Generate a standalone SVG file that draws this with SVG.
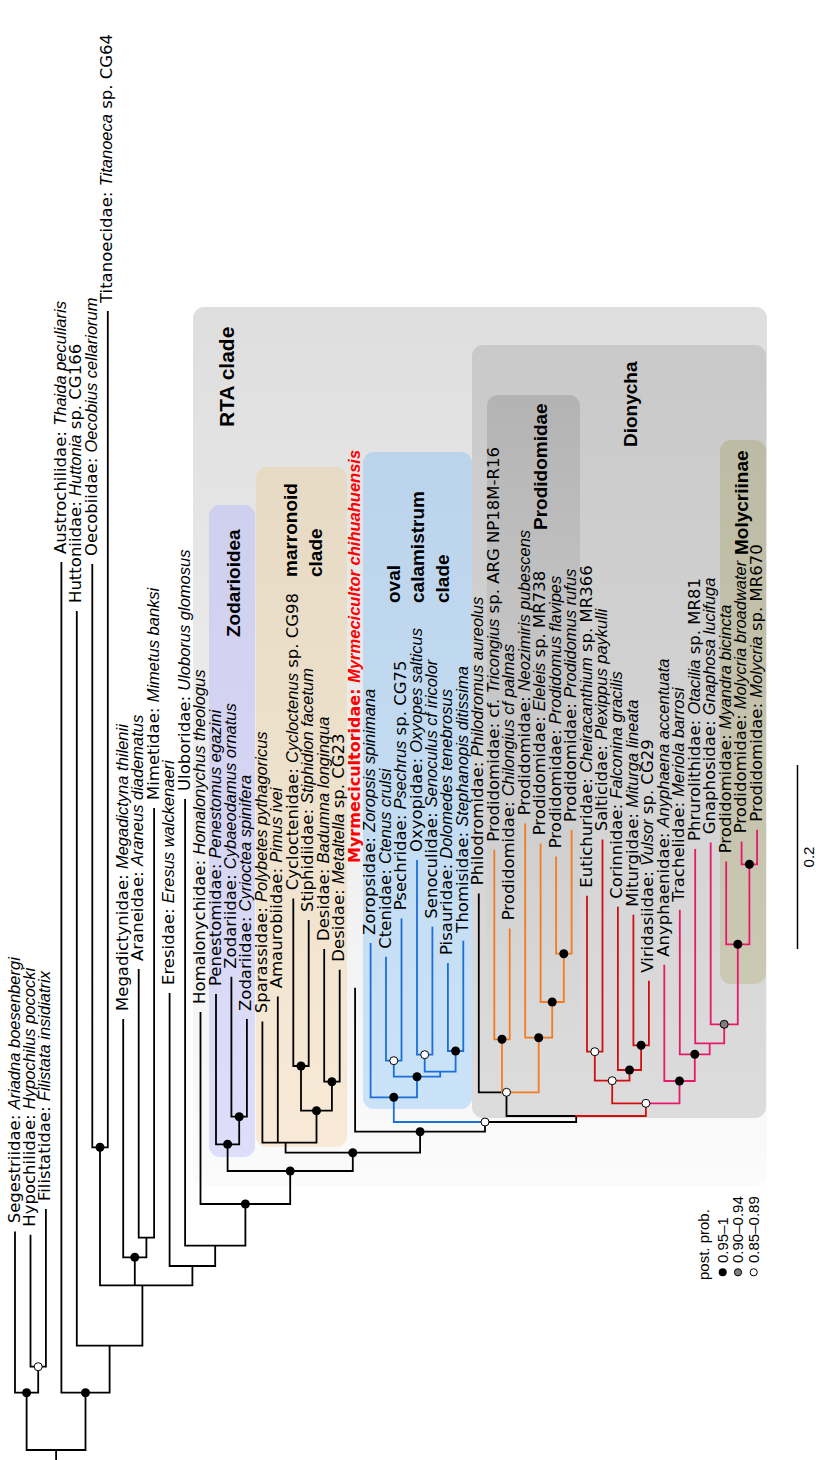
<svg xmlns="http://www.w3.org/2000/svg" width="816" height="1460" viewBox="0 0 816 1460">
<defs>
<style>
.lb{font-family:"DejaVu Sans","Liberation Sans",Arial,sans-serif;font-size:16.5px;fill:#000}
.i{font-family:"Liberation Sans Narrow","Arial Narrow","Liberation Sans",sans-serif;font-style:italic}
.my{font-family:"DejaVu Sans","Liberation Sans",Arial,sans-serif;font-size:16px;font-weight:bold;fill:#ff0000}
.my .i{font-size:16.5px}
.sm{font-family:"Liberation Sans",Arial,sans-serif;font-size:15px;fill:#000}
.cl{font-family:"Liberation Sans",Arial,sans-serif;font-size:19px;font-weight:bold;fill:#000}
.k{fill:none;stroke:#000;stroke-width:1.8;stroke-linecap:square}
.bl{fill:none;stroke:#1b6fd6;stroke-width:1.8;stroke-linecap:square}
.or{fill:none;stroke:#f47b20;stroke-width:1.8;stroke-linecap:square}
.rd{fill:none;stroke:#d10f12;stroke-width:1.8;stroke-linecap:square}
.pk{fill:none;stroke:#e9186a;stroke-width:1.8;stroke-linecap:square}
.d{fill:#000}
.w{fill:#fff;stroke:#000;stroke-width:1}
.g{fill:#7f7f7f;stroke:#000;stroke-width:1}
</style>
<linearGradient id="gRTA" x1="0" y1="0" x2="0" y2="1"><stop offset="0" stop-color="#dedede"/><stop offset="1" stop-color="#fbfbfb"/></linearGradient>
<linearGradient id="gZod" x1="0" y1="0" x2="0" y2="1"><stop offset="0" stop-color="#cfcfee"/><stop offset="1" stop-color="#dedefa"/></linearGradient>
<linearGradient id="gMar" x1="0" y1="0" x2="0" y2="1"><stop offset="0" stop-color="#e6dac4"/><stop offset="1" stop-color="#f8ead6"/></linearGradient>
<linearGradient id="gOval" x1="0" y1="0" x2="0" y2="1"><stop offset="0" stop-color="#bbd4eb"/><stop offset="1" stop-color="#cbe3f8"/></linearGradient>
<linearGradient id="gDio" x1="0" y1="0" x2="0" y2="1"><stop offset="0" stop-color="#c9c9c9"/><stop offset="1" stop-color="#dcdcdc"/></linearGradient>
<linearGradient id="gPro" x1="0" y1="0" x2="0" y2="1"><stop offset="0" stop-color="#b3b3b3" stop-opacity="1"/><stop offset="1" stop-color="#cccccc" stop-opacity="0"/></linearGradient>
<linearGradient id="gMol" x1="0" y1="0" x2="0" y2="1"><stop offset="0" stop-color="#bdbba4"/><stop offset="1" stop-color="#cbc9b3"/></linearGradient>
</defs>
<rect width="816" height="1460" fill="#fff"/>
<g id="boxes">
<rect id="box-rta" x="193" y="307" width="574" height="880" rx="11" fill="url(#gRTA)"/>
<rect id="box-zod" x="209" y="505" width="46" height="652" rx="11" fill="url(#gZod)"/>
<rect id="box-mar" x="256" y="467" width="91" height="680" rx="11" fill="url(#gMar)"/>
<rect id="box-oval" x="363" y="452" width="109" height="657" rx="11" fill="url(#gOval)"/>
<rect id="box-dio" x="472" y="345" width="294" height="773" rx="11" fill="url(#gDio)"/>
<rect id="box-pro" x="487" y="395" width="93" height="660" rx="11" fill="url(#gPro)"/>
<rect id="box-mol" x="720" y="440" width="46" height="544" rx="11" fill="url(#gMol)"/>
</g>
<g id="clade-labels">
<text class="cl" style="font-size:21px" transform="translate(233.5 427) rotate(-90)">RTA clade</text>
<text class="cl" transform="translate(240 637) rotate(-90)">Zodarioidea</text>
<text class="cl" transform="translate(297 577) rotate(-90)">marronoid</text>
<text class="cl" transform="translate(322 577) rotate(-90)">clade</text>
<text class="cl" transform="translate(400 603) rotate(-90)">oval</text>
<text class="cl" transform="translate(424 603) rotate(-90)">calamistrum</text>
<text class="cl" transform="translate(449 603) rotate(-90)">clade</text>
<text class="cl" transform="translate(637 447) rotate(-90)">Dionycha</text>
<text class="cl" transform="translate(547 530) rotate(-90)">Prodidomidae</text>
<text class="cl" transform="translate(748 555) rotate(-90)">Molycriinae</text>
</g>
<g id="connectors">
<path class="k" d="M56.1 1460V1450M26.6 1450H85.5M26.6 1450V1392.7M85.5 1450V1392.7M15 1392.7H38.2M15 1392.7V1232.3M38.2 1392.7V1366.7M30.5 1366.7H45.9M30.5 1366.7V1235.7M45.9 1366.7V1210M61.4 1392.7H109.6M61.4 1392.7V563M109.6 1392.7V1345.7M76.8 1345.7H142.4M76.8 1345.7V612M142.4 1345.7V1285.3M100 1285.3H192.4M100 1285.3V1147.3M92.3 1147.3H107.8M92.3 1147.3V565M107.8 1147.3V312M134.8 1285.3V1257.3M123.2 1257.3H146.4M123.2 1257.3V1020M146.4 1257.3V1237.7M138.7 1237.7H154.1M138.7 1237.7V970M154.1 1237.7V809M192.4 1285.3V1266M169.6 1266H215.2M169.6 1266V994M215.2 1266V1245.7M185.1 1245.7H245.4M185.1 1245.7V800M245.4 1245.7V1204M200.5 1204H290.2M200.5 1204V1013M290.2 1204V1171M227.6 1171H352.8M227.6 1171V1144.3M216 1144.3H239.2M216 1144.3V995M239.2 1144.3V1116.7M231.4 1116.7H246.9M231.4 1116.7V977.7M246.9 1116.7V1020M352.8 1171V1152.7M285.6 1152.7H420.1M285.6 1152.7V1142.7M262.4 1142.7H316.5M262.4 1142.7V1022.3M277.8 1142.7V997.3M316.5 1142.7V1110.7M301 1110.7H331.9M301 1110.7V1066M293.3 1066H308.7M293.3 1066V899.3M308.7 1066V921M331.9 1110.7V1081.7M324.2 1081.7H339.7M324.2 1081.7V950M339.7 1081.7V970.7M420.1 1152.7V1131.7M355.1 1131.7H485M355.1 1131.7V988.7M485 1131.7V1122M485 1122H576.2M576.2 1122V1116M506.5 1116H576.2M506.5 1116V1092.3M478.8 1092.3H502M478.8 1092.3V894.3"/>
<path class="bl" d="M393.8 1122H485M393.8 1122V1097.3M370.6 1097.3H417M370.6 1097.3V944M417 1097.3V1076.7M393.8 1076.7H440.2M393.8 1076.7V1060.7M386 1060.7H401.5M386 1060.7V957.7M401.5 1060.7V919.3M440.2 1076.7V1071.7M424.7 1071.7H455.6M424.7 1071.7V1054.7M417 1054.7H432.4M417 1054.7V861M432.4 1054.7V927.7M455.6 1071.7V1051M447.9 1051H463.3M447.9 1051V964M463.3 1051V941.7"/>
<path class="or" d="M502 1092.3H538.7M502 1092.3V1039.3M494.3 1039.3H509.7M494.3 1039.3V850.7M509.7 1039.3V929.3M538.7 1092.3V1037.7M525.2 1037.7H552.2M525.2 1037.7V824.3M552.2 1037.7V1002M540.6 1002H563.8M540.6 1002V844.3M563.8 1002V953.7M556.1 953.7H571.6M556.1 953.7V857.3M571.6 953.7V831"/>
<path class="rd" d="M576.2 1116H645.9M645.9 1116V1103.3M612.2 1103.3H645.9M612.2 1103.3V1080.7M594.8 1080.7H629.5M594.8 1080.7V1051.7M587 1051.7H602.5M587 1051.7V896.7M602.5 1051.7V840.3M629.5 1080.7V1070M617.9 1070H641.1M617.9 1070V907.7M641.1 1070V1045.3M633.4 1045.3H648.9M633.4 1045.3V915.7M648.9 1045.3V981.7"/>
<path class="pk" d="M645.9 1103.3H679.5M679.5 1103.3V1081M664.3 1081H694.8M664.3 1081V965.7M694.8 1081V1054.3M679.8 1054.3H709.7M679.8 1054.3V910.7M709.7 1054.3V1043.3M695.2 1043.3H724.2M695.2 1043.3V850M724.2 1043.3V1024.3M710.7 1024.3H737.8M710.7 1024.3V843.3M737.8 1024.3V944.3M726.2 944.3H749.4M726.2 944.3V862.3M749.4 944.3V864.3M741.6 864.3H757.1M741.6 864.3V842.3M757.1 864.3V830.7"/>
</g>
<g id="support">
<circle class="d" cx="26.6" cy="1392.7" r="4.5"/><circle class="w" cx="38.2" cy="1366.7" r="4"/><circle class="d" cx="85.5" cy="1392.7" r="4.5"/>
<circle class="d" cx="100" cy="1147.3" r="4.5"/><circle class="d" cx="134.8" cy="1257.3" r="4.5"/><circle class="d" cx="245.4" cy="1204" r="4.5"/>
<circle class="d" cx="290.2" cy="1171" r="4.5"/><circle class="d" cx="227.6" cy="1144.3" r="4.5"/><circle class="d" cx="239.2" cy="1116.7" r="4.5"/>
<circle class="d" cx="352.8" cy="1152.7" r="4.5"/><circle class="d" cx="316.5" cy="1110.7" r="4.5"/><circle class="d" cx="301" cy="1066" r="4.5"/>
<circle class="d" cx="331.9" cy="1081.7" r="4.5"/><circle class="d" cx="420.1" cy="1131.7" r="4.5"/><circle class="w" cx="485" cy="1122" r="4"/>
<circle class="d" cx="393.8" cy="1097.3" r="4.5"/><circle class="d" cx="417" cy="1076.7" r="4.5"/><circle class="w" cx="393.8" cy="1060.7" r="4"/>
<circle class="w" cx="424.7" cy="1054.7" r="4"/><circle class="d" cx="455.6" cy="1051" r="4.5"/><circle class="w" cx="506.5" cy="1092.3" r="4"/>
<circle class="d" cx="502" cy="1039.3" r="4.5"/><circle class="d" cx="538.7" cy="1037.7" r="4.5"/><circle class="d" cx="552.2" cy="1002" r="4.5"/>
<circle class="d" cx="563.8" cy="953.7" r="4.5"/><circle class="w" cx="645.9" cy="1103.3" r="4"/><circle class="w" cx="612.2" cy="1080.7" r="4"/>
<circle class="w" cx="594.8" cy="1051.7" r="4"/><circle class="d" cx="629.5" cy="1070" r="4.5"/><circle class="d" cx="641.1" cy="1045.3" r="4.5"/>
<circle class="d" cx="679.5" cy="1081" r="4.5"/><circle class="d" cx="694.8" cy="1054.3" r="4.5"/><circle class="g" cx="724.2" cy="1024.3" r="4"/>
<circle class="d" cx="737.8" cy="944.3" r="4.5"/><circle class="d" cx="749.4" cy="864.3" r="4.5"/>
</g>
<g id="tips">
<g id="t1"><text class="lb" transform="translate(19.5 1223.3) rotate(-90)">Segestriidae: <tspan class="i">Ariadna boesenbergi</tspan></text></g>
<g id="t2"><text class="lb" transform="translate(35 1226.7) rotate(-90)">Hypochilidae: <tspan class="i">Hypochilus pococki</tspan></text></g>
<g id="t3"><text class="lb" transform="translate(50.4 1201) rotate(-90)">Filistatidae: <tspan class="i">Filistata insidiatrix</tspan></text></g>
<g id="t4"><text class="lb" transform="translate(65.9 554) rotate(-90)">Austrochilidae: <tspan class="i">Thaida peculiaris</tspan></text></g>
<g id="t5"><text class="lb" transform="translate(81.3 603) rotate(-90)">Huttoniidae: <tspan class="i">Huttonia</tspan> sp. CG166</text></g>
<g id="t6"><text class="lb" transform="translate(96.8 556) rotate(-90)">Oecobiidae: <tspan class="i">Oecobius cellariorum</tspan></text></g>
<g id="t7"><text class="lb" transform="translate(112.3 303) rotate(-90)">Titanoecidae: <tspan class="i">Titanoeca</tspan> sp. CG64</text></g>
<g id="t8"><text class="lb" transform="translate(127.7 1011) rotate(-90)">Megadictynidae: <tspan class="i">Megadictyna thilenii</tspan></text></g>
<g id="t9"><text class="lb" transform="translate(143.2 961) rotate(-90)">Araneidae: <tspan class="i">Araneus diadematus</tspan></text></g>
<g id="t10"><text class="lb" transform="translate(158.6 800) rotate(-90)">Mimetidae: <tspan class="i">Mimetus banksi</tspan></text></g>
<g id="t11"><text class="lb" transform="translate(174.1 985) rotate(-90)">Eresidae: <tspan class="i">Eresus walckenaeri</tspan></text></g>
<g id="t12"><text class="lb" transform="translate(189.6 791) rotate(-90)">Uloboridae: <tspan class="i">Uloborus glomosus</tspan></text></g>
<g id="t13"><text class="lb" transform="translate(205 1004) rotate(-90)">Homalonychidae: <tspan class="i">Homalonychus theologus</tspan></text></g>
<g id="t14"><text class="lb" transform="translate(220.5 986) rotate(-90)">Penestomidae: <tspan class="i">Penestomus egazini</tspan></text></g>
<g id="t15"><text class="lb" transform="translate(235.9 968.7) rotate(-90)">Zodariidae: <tspan class="i">Cybaeodamus ornatus</tspan></text></g>
<g id="t16"><text class="lb" transform="translate(251.4 1011) rotate(-90)">Zodariidae: <tspan class="i">Cyrioctea spinifera</tspan></text></g>
<g id="t17"><text class="lb" transform="translate(266.9 1013.3) rotate(-90)">Sparassidae: <tspan class="i">Polybetes pythagoricus</tspan></text></g>
<g id="t18"><text class="lb" transform="translate(282.3 988.3) rotate(-90)">Amaurobiidae: <tspan class="i">Pimus ivei</tspan></text></g>
<g id="t19"><text class="lb" transform="translate(297.8 890.3) rotate(-90)">Cycloctenidae: <tspan class="i">Cycloctenus</tspan> sp. CG98</text></g>
<g id="t20"><text class="lb" transform="translate(313.2 912) rotate(-90)">Stiphidiidae: <tspan class="i">Stiphidion facetum</tspan></text></g>
<g id="t21"><text class="lb" transform="translate(328.7 941) rotate(-90)">Desidae: <tspan class="i">Badumna longinqua</tspan></text></g>
<g id="t22"><text class="lb" transform="translate(344.2 961.7) rotate(-90)">Desidae: <tspan class="i">Metaltella</tspan> sp. CG23</text></g>
<g id="t23"><text class="my" transform="translate(359.6 863) rotate(-90)">Myrmecicultoridae: <tspan class="i">Myrmecicultor chihuahuensis</tspan></text></g>
<g id="t24"><text class="lb" transform="translate(375.1 935) rotate(-90)">Zoropsidae: <tspan class="i">Zoropsis spinimana</tspan></text></g>
<g id="t25"><text class="lb" transform="translate(390.5 948.7) rotate(-90)">Ctenidae: <tspan class="i">Ctenus crulsi</tspan></text></g>
<g id="t26"><text class="lb" transform="translate(406 910.3) rotate(-90)">Psechridae: <tspan class="i">Psechrus</tspan> sp. CG75</text></g>
<g id="t27"><text class="lb" transform="translate(421.5 852) rotate(-90)">Oxyopidae: <tspan class="i">Oxyopes salticus</tspan></text></g>
<g id="t28"><text class="lb" transform="translate(436.9 918.7) rotate(-90)">Senoculidae: <tspan class="i">Senoculus cf iricolor</tspan></text></g>
<g id="t29"><text class="lb" transform="translate(452.4 955) rotate(-90)">Pisauridae: <tspan class="i">Dolomedes tenebrosus</tspan></text></g>
<g id="t30"><text class="lb" transform="translate(467.8 932.7) rotate(-90)">Thomisidae: <tspan class="i">Stephanopis ditissima</tspan></text></g>
<g id="t31"><text class="lb" transform="translate(483.3 885.3) rotate(-90)">Philodromidae: <tspan class="i">Philodromus aureolus</tspan></text></g>
<g id="t32"><text class="lb" transform="translate(498.8 841.7) rotate(-90)">Prodidomidae: cf. <tspan class="i">Tricongius</tspan> sp. ARG NP18M-R16</text></g>
<g id="t33"><text class="lb" transform="translate(514.2 920.3) rotate(-90)">Prodidomidae: <tspan class="i">Chilongius cf palmas</tspan></text></g>
<g id="t34"><text class="lb" transform="translate(529.7 815.3) rotate(-90)">Prodidomidae: <tspan class="i">Neozimiris pubescens</tspan></text></g>
<g id="t35"><text class="lb" transform="translate(545.1 835.3) rotate(-90)">Prodidomidae: <tspan class="i">Eleleis</tspan> sp. MR738</text></g>
<g id="t36"><text class="lb" transform="translate(560.6 848.3) rotate(-90)">Prodidomidae: <tspan class="i">Prodidomus flavipes</tspan></text></g>
<g id="t37"><text class="lb" transform="translate(576.1 822) rotate(-90)">Prodidomidae: <tspan class="i">Prodidomus rufus</tspan></text></g>
<g id="t38"><text class="lb" transform="translate(591.5 887.7) rotate(-90)">Eutichuridae: <tspan class="i">Cheiracanthium</tspan> sp. MR366</text></g>
<g id="t39"><text class="lb" transform="translate(607 831.3) rotate(-90)">Salticidae: <tspan class="i">Plexippus paykulli</tspan></text></g>
<g id="t40"><text class="lb" transform="translate(622.4 898.7) rotate(-90)">Corinnidae: <tspan class="i">Falconina gracilis</tspan></text></g>
<g id="t41"><text class="lb" transform="translate(637.9 906.7) rotate(-90)">Miturgidae: <tspan class="i">Miturga lineata</tspan></text></g>
<g id="t42"><text class="lb" transform="translate(653.4 972.7) rotate(-90)">Viridasiidae: <tspan class="i">Vulsor</tspan> sp. CG29</text></g>
<g id="t43"><text class="lb" transform="translate(668.8 956.7) rotate(-90)">Anyphaenidae: <tspan class="i">Anyphaena accentuata</tspan></text></g>
<g id="t44"><text class="lb" transform="translate(684.3 901.7) rotate(-90)">Trachelidae: <tspan class="i">Meriola barrosi</tspan></text></g>
<g id="t45"><text class="lb" transform="translate(699.7 841) rotate(-90)">Phrurolithidae: <tspan class="i">Otacilia</tspan> sp. MR81</text></g>
<g id="t46"><text class="lb" transform="translate(715.2 834.3) rotate(-90)">Gnaphosidae: <tspan class="i">Gnaphosa lucifuga</tspan></text></g>
<g id="t47"><text class="lb" transform="translate(730.7 853.3) rotate(-90)">Prodidomidae: <tspan class="i">Myandra bicincta</tspan></text></g>
<g id="t48"><text class="lb" transform="translate(746.1 833.3) rotate(-90)">Prodidomidae: <tspan class="i">Molycria broadwater</tspan></text></g>
<g id="t49"><text class="lb" transform="translate(761.6 821.7) rotate(-90)">Prodidomidae: <tspan class="i">Molycria</tspan> sp. MR670</text></g>
</g>
<g id="scale">
<path d="M797.5 765V949" stroke="#000" stroke-width="1.5"/>
<text class="sm" text-anchor="middle" transform="translate(814 857) rotate(-90)">0.2</text>
</g>
<g id="legend">
<text class="sm" transform="translate(709 1280) rotate(-90)">post. prob.</text>
<circle class="d" cx="722.7" cy="1272.3" r="4"/><circle class="g" cx="738" cy="1272.3" r="3.6"/><circle class="w" cx="753.7" cy="1272.3" r="3.6"/>
<text class="sm" transform="translate(727.5 1263) rotate(-90)">0.95–1</text>
<text class="sm" transform="translate(743 1263) rotate(-90)">0.90–0.94</text>
<text class="sm" transform="translate(758.5 1263) rotate(-90)">0.85–0.89</text>
</g>
</svg>
